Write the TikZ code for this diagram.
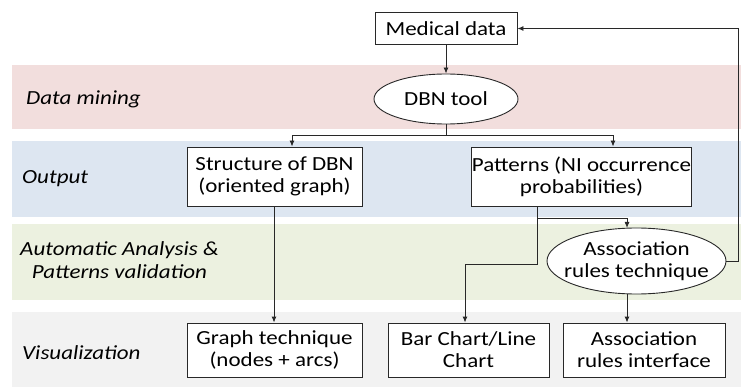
\documentclass[tikz,border=0pt]{standalone}
\usepackage{fontspec}
\setmainfont{Carlito}[FakeStretch=1.15]
\usetikzlibrary{arrows.meta,calc,shapes.geometric}
\definecolor{bandpink}{RGB}{242,222,221}
\definecolor{bandblue}{RGB}{221,230,241}
\definecolor{bandgreen}{RGB}{236,241,224}
\definecolor{bandgray}{RGB}{242,242,242}
\definecolor{edgec}{RGB}{40,40,40}
\tikzset{
  txt/.style={font=\fontsize{20}{22}\selectfont},
  boxn/.style={txt,draw=edgec,line width=0.9pt,fill=white,rectangle,inner sep=0pt,align=center},
  elln/.style={txt,draw=edgec,line width=0.9pt,fill=white,ellipse,inner xsep=-10pt,inner ysep=-6pt,align=center},
  lab/.style={txt,font=\fontsize{20}{23}\selectfont\itshape,anchor=base west,inner sep=0pt},
  conn/.style={draw=edgec,line width=0.9pt},
  arr/.style={conn,-{Latex[length=6pt,width=5pt]}}
}
\begin{document}
\begin{tikzpicture}[x=1pt,y=-1pt]
\useasboundingbox (0,0) rectangle (741,387);
% bands
\fill[bandpink] (12,65) rectangle (741,129);
\fill[bandblue] (12,141) rectangle (741,217);
\fill[bandgreen] (12,224) rectangle (741,300);
\fill[bandgray] (12,312) rectangle (741,387);
% labels
\node[lab] (l1) at (26,105) {Data mining};
\node[lab] (l2) at (22,184) {Output};
\node[txt,font=\fontsize{20}{23}\selectfont\itshape,align=center,anchor=north west,inner sep=0pt] (l3) at (20,241) {Automatic Analysis \&\\Patterns validation};
\node[lab] (l4) at (22,359) {Visualization};
% nodes
\node[boxn,minimum width=142pt,minimum height=32pt] (med) at (446,28.5) {Medical data};
\node[elln,minimum width=144pt,minimum height=50pt] (dbn) at (446,99) {DBN tool};
\node[boxn,minimum width=175pt,minimum height=59pt] (struct) at (274.5,176.5) {Structure of DBN\\(oriented graph)};
\node[boxn,minimum width=203pt,minimum height=59pt] (patt) at (581.5,176.5) {Patterns (NI occurrence\\probabilities)};
\node[elln,minimum width=179pt,minimum height=66pt] (assoc) at (636.5,261) {Association\\rules technique};
\node[boxn,minimum width=175pt,minimum height=54pt] (graph) at (274.5,350) {Graph technique\\(nodes + arcs)};
\node[boxn,minimum width=161pt,minimum height=54pt] (bar) at (468.5,350) {Bar Chart/Line\\Chart};
\node[boxn,minimum width=162pt,minimum height=54pt] (iface) at (644,350) {Association\\rules interface};
% connector coordinates
\coordinate (split) at (446,135);
\coordinate (pb) at (537,218);
\coordinate (pc) at (537,264);
\coordinate (fb) at (738,261);
% connectors
\draw[arr] (med) -- (dbn);
\draw[conn] (dbn.south) -- (split);
\draw[arr] (split) -| (struct.north -| 292,0);
\draw[arr] (split) -| (patt.north -| 613,0);
\draw[arr] (struct.south -| 274,0) -- (graph.north -| 274,0);
\draw[conn] (patt.south -| pb) -- (pb);
\draw[arr] (pb) -| ($(assoc.north -| 627,0)+(0,0.4)$);
\draw[arr] (pb) -- (pc) -| (bar.north -| 465,0);
\draw[arr] ($(assoc.south -| 627,0)+(0,-0.4)$) -- (iface.north -| 627,0);
\draw[arr] (assoc.east) -- (fb) |- (med.east);
\end{tikzpicture}
\end{document}
